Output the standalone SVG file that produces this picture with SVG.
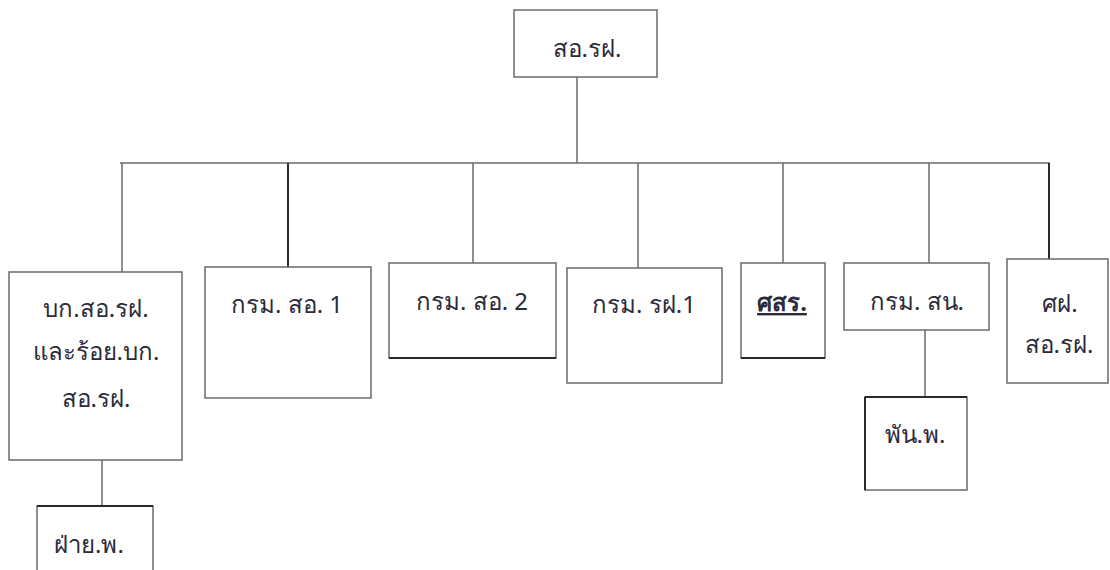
<svg xmlns="http://www.w3.org/2000/svg" width="1110" height="570" viewBox="0 0 1110 570">
<style>
.box{fill:#fff;stroke:#6a6a6a;stroke-width:1.5}
.ln{stroke:#6a6a6a;stroke-width:1.5;fill:none}
.dk{stroke:#2a2a2a;stroke-width:2;fill:none}
text{font-family:"Noto Sans","DejaVu Sans",sans-serif;font-size:24px;fill:#2b2b3a;text-anchor:middle}
</style>
<rect width="1110" height="570" fill="#fff"/>
<g id="connectors">
<line class="ln" x1="577" y1="77" x2="577" y2="163"/>
<line class="ln" x1="120" y1="163" x2="1050" y2="163"/>
<line class="ln" x1="122" y1="163" x2="122" y2="272"/>
<line class="dk" x1="288" y1="163" x2="288" y2="267"/>
<line class="ln" x1="473" y1="163" x2="473" y2="263"/>
<line class="ln" x1="638" y1="163" x2="638" y2="268"/>
<line class="ln" x1="783" y1="163" x2="783" y2="263"/>
<line class="ln" x1="929" y1="163" x2="929" y2="263"/>
<line class="dk" x1="1049" y1="163" x2="1049" y2="259"/>
<line class="ln" x1="102" y1="460" x2="102" y2="506"/>
<line class="ln" x1="925" y1="330" x2="925" y2="397"/>
</g>
<g id="n-top"><rect class="box" x="514" y="10" width="143" height="67"/><text x="587" y="57">สอ.รฝ.</text></g>
<g id="n-bk"><rect class="box" x="9" y="272" width="173" height="188"/><text x="96" y="317">บก.สอ.รฝ.</text><text x="96" y="360">และร้อย.บก.</text><text x="96" y="407">สอ.รฝ.</text></g>
<g id="n-fai"><rect class="box" x="37" y="506" width="116" height="80"/><line class="dk" x1="37" y1="506" x2="153" y2="506"/><text x="89" y="553">ฝ่าย.พ.</text></g>
<g id="n-so1"><rect class="box" x="205" y="267" width="166" height="131"/><text x="287" y="313">กรม. สอ. 1</text></g>
<g id="n-so2"><rect class="box" x="389" y="263" width="167" height="95"/><line class="dk" x1="389" y1="358" x2="556" y2="358"/><text x="472" y="310">กรม. สอ. 2</text></g>
<g id="n-rf1"><rect class="box" x="567" y="268" width="155" height="115"/><text x="644" y="313">กรม. รฝ.1</text></g>
<g id="n-ssr"><rect class="box" x="741" y="263" width="84" height="95"/><line class="dk" x1="741" y1="358" x2="825" y2="358"/><text x="782" y="311" font-weight="bold" text-decoration="underline">ศสร.</text></g>
<g id="n-sn"><rect class="box" x="844" y="263" width="145" height="67"/><text x="917" y="310">กรม. สน.</text></g>
<g id="n-pan"><rect class="box" x="865" y="397" width="102" height="93"/><line class="dk" x1="865" y1="397" x2="967" y2="397"/><line class="dk" x1="865" y1="397" x2="865" y2="490"/><text x="915" y="443">พัน.พ.</text></g>
<g id="n-sf"><rect class="box" x="1007" y="259" width="101" height="124"/><text x="1060" y="312">ศฝ.</text><text x="1059" y="353">สอ.รฝ.</text></g>
</svg>
